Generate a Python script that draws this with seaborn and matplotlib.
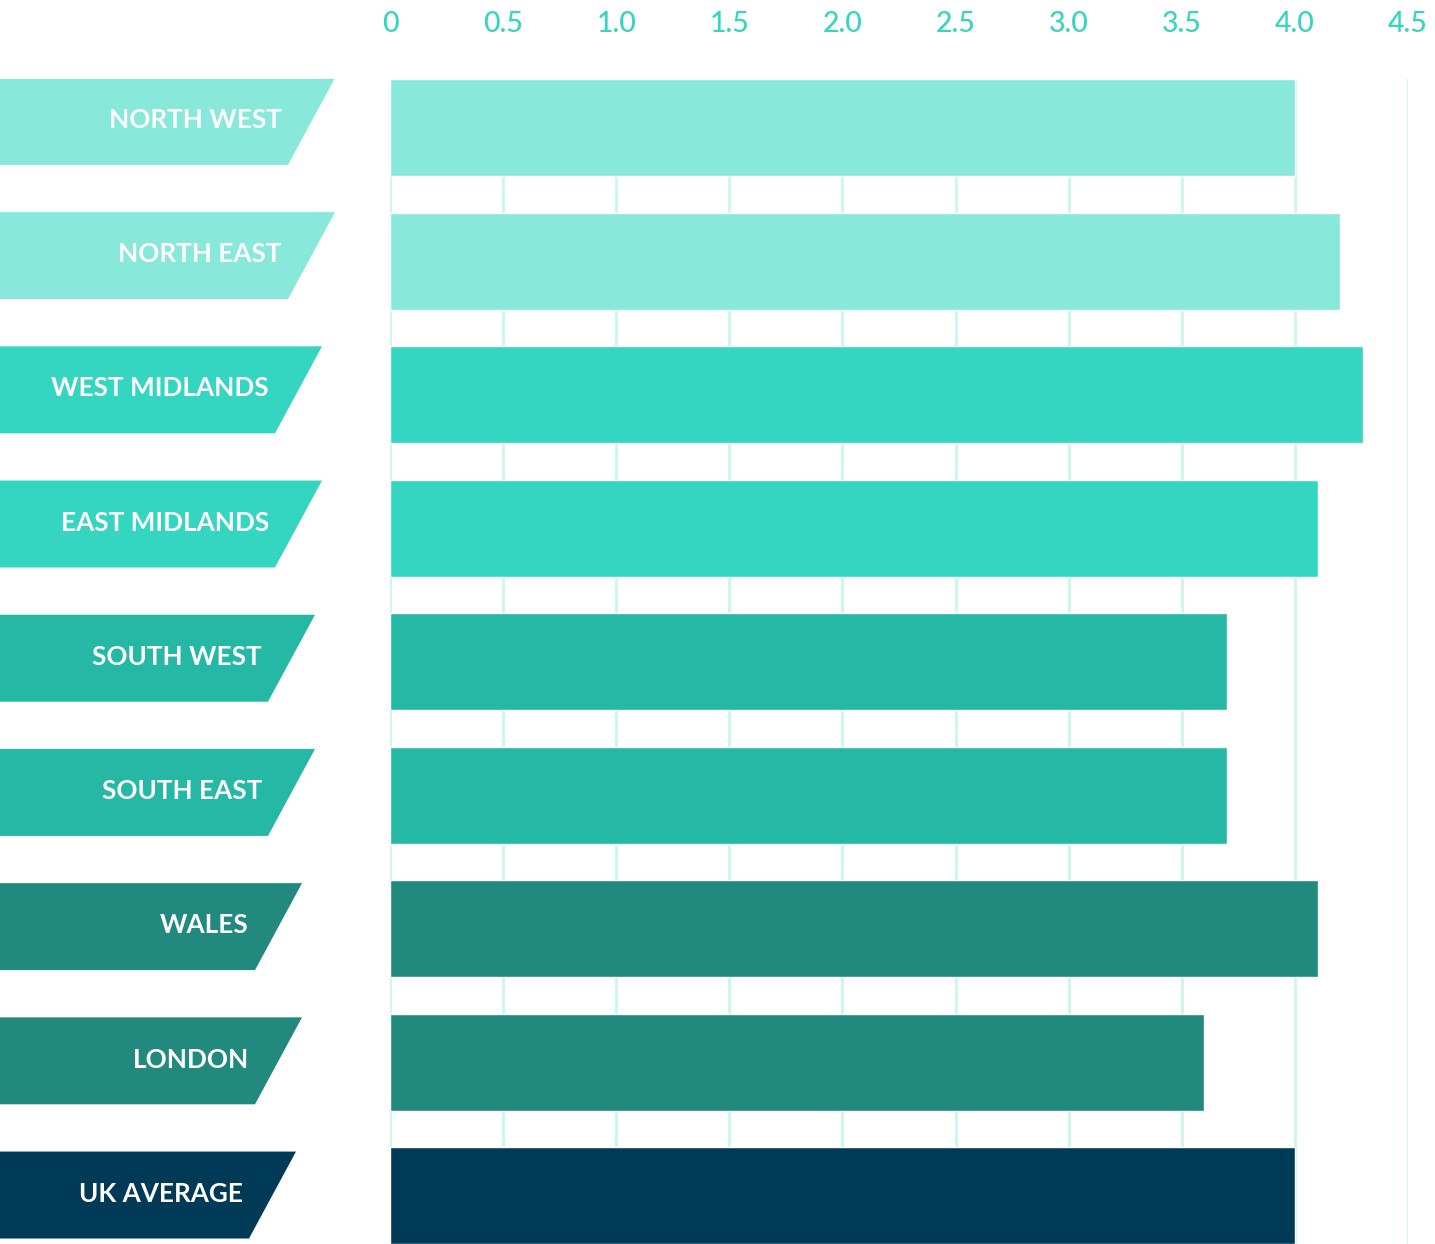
import matplotlib
matplotlib.use("Agg")
import matplotlib.pyplot as plt
import seaborn as sns
import pandas as pd
from matplotlib.patches import Polygon

# data
regions = ["NORTH WEST", "NORTH EAST", "WEST MIDLANDS", "EAST MIDLANDS",
           "SOUTH WEST", "SOUTH EAST", "WALES", "LONDON", "UK AVERAGE"]
values = [4.0, 4.2, 4.3, 4.1, 3.7, 3.7, 4.1, 3.6, 4.0]
ticks = [0, 0.5, 1.0, 1.5, 2.0, 2.5, 3.0, 3.5, 4.0, 4.5]
tick_labels = ["0", "0.5", "1.0", "1.5", "2.0", "2.5", "3.0", "3.5", "4.0", "4.5"]

colors = ["#88E8DA", "#88E8DA", "#35D6C1", "#35D6C1", "#24B8A5",
          "#24B8A5", "#22897E", "#22897E", "#003A57"]
banner_right = [335, 335, 322, 322, 315, 315, 302, 302, 296]  # px, top-right corner

df = pd.DataFrame({"region": regions, "value": values})

sns.set_theme(style="white")
plt.rcParams["font.family"] = ["Lato", "DejaVu Sans"]

W, H = 1435, 1244
fig = plt.figure(figsize=(W / 100, H / 100), dpi=100)

x0, x1 = 390, 1408          # px of 0 and 4.5
top = 79                     # px top of first bar
ax = fig.add_axes([x0 / W, 0, (x1 - x0) / W, (H - top) / H])

bar_w = 0.726
sns.barplot(data=df, x="value", y="region", hue="region", palette=colors,
            legend=False, width=bar_w, saturation=1, ax=ax, zorder=2)

ax.set_xlim(0, 4.5)
ax.set_ylim(8 + 0.36, -bar_w / 2)
ax.set_xticks(ticks)
ax.set_xticklabels(tick_labels)
ax.xaxis.tick_top()
ax.tick_params(axis="x", length=0, pad=30, labelsize=20.5, labelcolor="#34D6C0")
for t in ax.get_xticklabels():
    t.set_fontweight("medium")
ax.set_yticks([])
ax.set_xlabel("")
ax.set_ylabel("")
for s in ax.spines.values():
    s.set_visible(False)
for t in ticks:
    ax.axvline(t, color="#CFF6F0", lw=2.2, zorder=1)

# label banners on the left
lab = fig.add_axes([0, 0, x0 / W, (H - top) / H], sharey=ax)
lab.set_xlim(0, x0)
lab.axis("off")
bh = 0.651
slant = 47
step = 134.25 / 133.6   # banners are spaced a touch wider than the bars
for i, (name, c, r) in enumerate(zip(regions, colors, banner_right)):
    y_top = i * step - bar_w / 2 - 0.008
    y_bot = y_top + bh
    poly = Polygon([(0, y_top), (r, y_top), (r - slant, y_bot), (0, y_bot)],
                   closed=True, facecolor=c, edgecolor="none")
    lab.add_patch(poly)
    lab.text(r - slant - 6, (y_top + y_bot) / 2 - 0.01, name, color="white",
             fontsize=18.8, fontweight="bold", ha="right", va="center")

fig.savefig("out.png", dpi=100)
